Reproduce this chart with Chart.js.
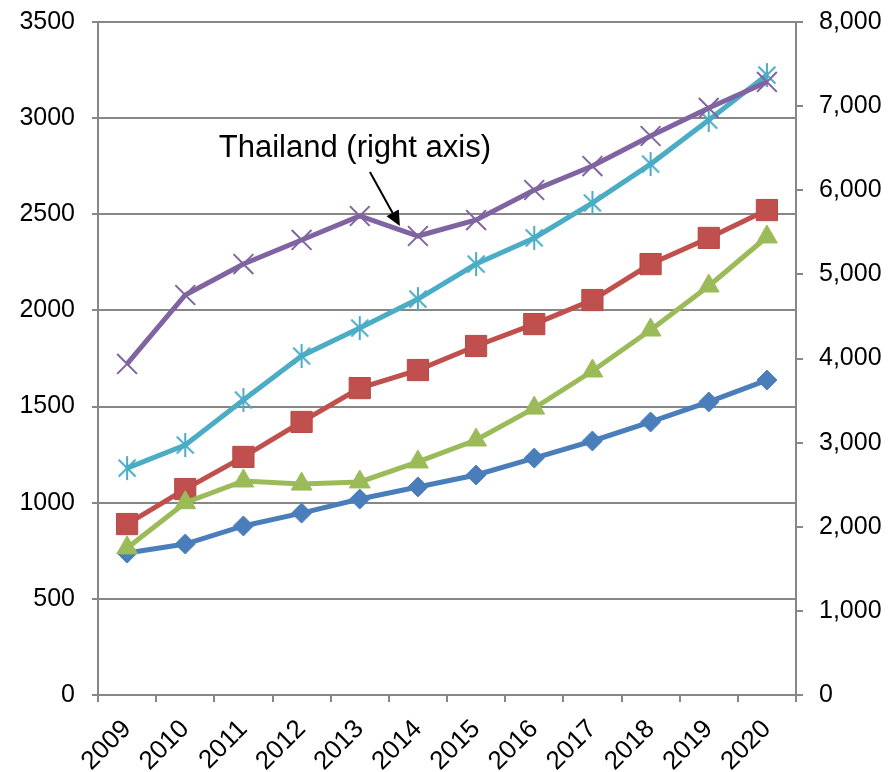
<!DOCTYPE html>
<html>
<head>
<meta charset="utf-8">
<script src="https://cdn.jsdelivr.net/npm/chart.js@4/dist/chart.umd.min.js"></script>
<style>
  html, body { margin: 0; padding: 0; background: #fff; }
  #wrap { width: 889px; height: 772px; position: relative; }
</style>
</head>
<body>
<div id="wrap"><canvas id="c" width="889" height="772"></canvas></div>
<script>
// Years on the category axis
const years = ['2009','2010','2011','2012','2013','2014','2015','2016','2017','2018','2019','2020'];

// Left-axis series
const seriesBlue  = [738, 785, 879, 946, 1019, 1082, 1144, 1232, 1321, 1420, 1524, 1638];
const seriesRed   = [889, 1071, 1238, 1420, 1596, 1690, 1815, 1929, 2054, 2241, 2377, 2522];
const seriesGreen = [765, 1000, 1113, 1097, 1108, 1212, 1326, 1492, 1685, 1898, 2127, 2382];
const seriesCyan  = [1180, 1300, 1534, 1763, 1908, 2059, 2241, 2377, 2559, 2761, 2990, 3224];

// Right-axis series: Thailand
const thailand = [3935, 4755, 5123, 5409, 5694, 5456, 5646, 6003, 6288, 6645, 6978, 7287];

// Axis tick settings
const leftTicks  = { min: 0, max: 3500, step: 500 };
const rightTicks = { min: 0, max: 8000, step: 1000 };

const annotationText = 'Thailand (right axis)';
const annotationIndex = 5; // the dip the arrow points at

const FONT = "'Liberation Sans', Arial, sans-serif";
const GRID = '#878787';

// Asterisk marker (X plus a vertical stroke)
function asterisk(color, r, lw) {
  const s = Math.ceil(2 * r + lw * 2);
  const cv = document.createElement('canvas');
  cv.width = s; cv.height = s;
  const g = cv.getContext('2d');
  const c = s / 2, d = r * Math.SQRT1_2;
  g.strokeStyle = color; g.lineWidth = lw; g.lineCap = 'butt';
  g.beginPath();
  g.moveTo(c - d, c - d); g.lineTo(c + d, c + d);
  g.moveTo(c + d, c - d); g.lineTo(c - d, c + d);
  g.moveTo(c, c - r); g.lineTo(c, c + r);
  g.stroke();
  return cv;
}

// Callout text with an arrow, anchored to a Thailand data point
const calloutPlugin = {
  id: 'callout',
  afterDatasetsDraw(chart) {
    const ctx = chart.ctx;
    const xs = chart.scales.x, ys = chart.scales.y2;
    const px = xs.getPixelForValue(annotationIndex);
    const py = ys.getPixelForValue(thailand[annotationIndex]);
    const tipX = px - 18, tipY = py - 10;
    const startX = px - 48, startY = py - 64;
    ctx.save();
    ctx.fillStyle = '#000';
    ctx.font = '31px ' + FONT;
    ctx.textAlign = 'center';
    ctx.textBaseline = 'alphabetic';
    ctx.fillText(annotationText, px - 63, py - 79);
    // shaft
    const ang = Math.atan2(tipY - startY, tipX - startX);
    const headLen = 15, headW = 7;
    const bx = tipX - Math.cos(ang) * headLen, by = tipY - Math.sin(ang) * headLen;
    ctx.strokeStyle = '#000';
    ctx.lineWidth = 2;
    ctx.beginPath();
    ctx.moveTo(startX, startY);
    ctx.lineTo(bx, by);
    ctx.stroke();
    // head
    ctx.beginPath();
    ctx.moveTo(tipX, tipY);
    ctx.lineTo(bx + Math.sin(ang) * headW, by - Math.cos(ang) * headW);
    ctx.lineTo(bx - Math.sin(ang) * headW, by + Math.cos(ang) * headW);
    ctx.closePath();
    ctx.fill();
    ctx.restore();
  }
};

const common = { borderWidth: 5, tension: 0, fill: false, clip: false };

// keep the plot edges fixed regardless of tick-label overhang
function fixVertical(width) {
  return function (s) { s.width = width; s.paddingTop = 0; s.paddingBottom = 0; };
}

new Chart(document.getElementById('c'), {
  type: 'line',
  data: {
    labels: years,
    datasets: [
      Object.assign({ label: 'Thailand', data: thailand, yAxisID: 'y2', order: 0,
        borderColor: '#8064A2', pointStyle: 'crossRot', pointRadius: 14,
        pointBorderWidth: 2, pointBorderColor: '#8064A2', pointBackgroundColor: '#8064A2' }, common),
      Object.assign({ label: 'S4', data: seriesCyan, yAxisID: 'y', order: 1,
        borderColor: '#4BACC6', pointStyle: asterisk('#4BACC6', 12, 2), pointRadius: 12 }, common),
      Object.assign({ label: 'S3', data: seriesGreen, yAxisID: 'y', order: 2,
        borderColor: '#9BBB59', pointStyle: 'triangle', pointRadius: 12,
        pointBorderWidth: 1, pointBorderColor: '#9BBB59', pointBackgroundColor: '#9BBB59' }, common),
      Object.assign({ label: 'S2', data: seriesRed, yAxisID: 'y', order: 3,
        borderColor: '#C0504D', pointStyle: 'rect', pointRadius: 15,
        pointBorderWidth: 1, pointBorderColor: '#B84A47', pointBackgroundColor: '#C0504D' }, common),
      Object.assign({ label: 'S1', data: seriesBlue, yAxisID: 'y', order: 4,
        borderColor: '#4A7EBB', pointStyle: 'rectRot', pointRadius: 10,
        pointBorderWidth: 1, pointBorderColor: '#4A7EBB', pointBackgroundColor: '#4A7EBB' }, common)
    ]
  },
  options: {
    responsive: false,
    animation: false,
    layout: { padding: { top: 22, left: 0, right: 0, bottom: 0 } },
    plugins: { legend: { display: false }, tooltip: { enabled: false } },
    scales: {
      x: {
        type: 'category',
        offset: true,
        grid: { display: true, drawOnChartArea: false, drawTicks: true, tickLength: 7,
                color: GRID, lineWidth: 2, offset: true },
        border: { display: true, color: GRID, width: 2 },
        ticks: { color: '#000', font: { family: FONT, size: 26 }, maxRotation: 45, minRotation: 45,
                 padding: 12, autoSkip: false },
        afterFit(s) { s.height = 77; s.paddingLeft = 0; s.paddingRight = 0; }
      },
      y: {
        position: 'left',
        min: leftTicks.min, max: leftTicks.max,
        grid: { color: GRID, lineWidth: 2, drawTicks: true, tickLength: 6 },
        border: { display: true, color: GRID, width: 2 },
        ticks: { stepSize: leftTicks.step, color: '#000', font: { family: FONT, size: 25 }, padding: 17,
                 callback: v => String(v) },
        afterFit: fixVertical(98)
      },
      y2: {
        position: 'right',
        min: rightTicks.min, max: rightTicks.max,
        grid: { drawOnChartArea: false, color: GRID, lineWidth: 2, drawTicks: true, tickLength: 7 },
        border: { display: true, color: GRID, width: 2 },
        ticks: { stepSize: rightTicks.step, color: '#000', font: { family: FONT, size: 25 }, padding: 16,
                 callback: v => v.toLocaleString('en-US') },
        afterFit: fixVertical(93)
      }
    }
  },
  plugins: [calloutPlugin]
});
</script>
</body>
</html>
